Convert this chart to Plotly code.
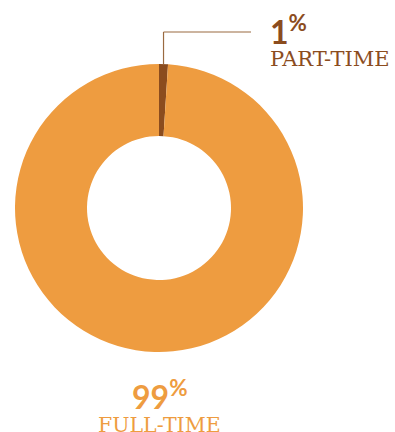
import math
import plotly.graph_objects as go

# Employment split
labels = ["PART-TIME", "FULL-TIME"]
values = [1, 99]
colors = ["#8B4C1E", "#EE9C40"]

W, H = 395, 432
# pie placement in pixels: centre and outer radius
cx, cy, r = 159, 208, 144

fig = go.Figure(go.Pie(
    labels=labels,
    values=values,
    hole=0.5,
    sort=False,
    direction="clockwise",
    rotation=0,
    marker=dict(colors=colors, line=dict(width=0)),
    textinfo="none",
    hoverinfo="label+percent",
    domain=dict(x=[(cx - r) / W, (cx + r) / W], y=[1 - (cy + r) / H, 1 - (cy - r) / H]),
))

# leader line from the middle of the part-time slice
total = sum(values)
mid_deg = 360 * values[0] / total / 2
lx = cx + r * math.sin(math.radians(mid_deg))
ly_top = cy - r
fig.add_shape(type="line", xref="paper", yref="paper",
              x0=lx / W, y0=1 - ly_top / H, x1=lx / W, y1=1 - 32 / H,
              line=dict(color="#9A6A40", width=1.2))
fig.add_shape(type="line", xref="paper", yref="paper",
              x0=lx / W, y0=1 - 32 / H, x1=251 / W, y1=1 - 32 / H,
              line=dict(color="#9A6A40", width=1.2))

pct = [round(100 * v / total) for v in values]
num_font = "Lato"
lab_font = "DejaVu Serif"

fig.add_annotation(xref="paper", yref="paper", x=268 / W, y=1 - 30 / H,
                   xanchor="left", yanchor="middle", showarrow=False,
                   text=f"<b>{pct[0]}</b><sup><b>%</b></sup>",
                   font=dict(family=num_font, size=32, color=colors[0]))
fig.add_annotation(xref="paper", yref="paper", x=268 / W, y=1 - 59 / H,
                   xanchor="left", yanchor="middle", showarrow=False,
                   text=labels[0],
                   font=dict(family=lab_font, size=21, color=colors[0]))

fig.add_annotation(xref="paper", yref="paper", x=cx / W, y=1 - 395 / H,
                   xanchor="center", yanchor="middle", showarrow=False,
                   text=f"<b>{pct[1]}</b><sup><b>%</b></sup>",
                   font=dict(family=num_font, size=32, color=colors[1]))
fig.add_annotation(xref="paper", yref="paper", x=cx / W, y=1 - 425 / H,
                   xanchor="center", yanchor="middle", showarrow=False,
                   text=labels[1],
                   font=dict(family=lab_font, size=20.5, color=colors[1]))

fig.update_layout(
    width=W, height=H,
    margin=dict(l=0, r=0, t=0, b=0),
    showlegend=False,
    paper_bgcolor="white",
    plot_bgcolor="white",
)

fig.write_html("out.html", config={"displayModeBar": False})
